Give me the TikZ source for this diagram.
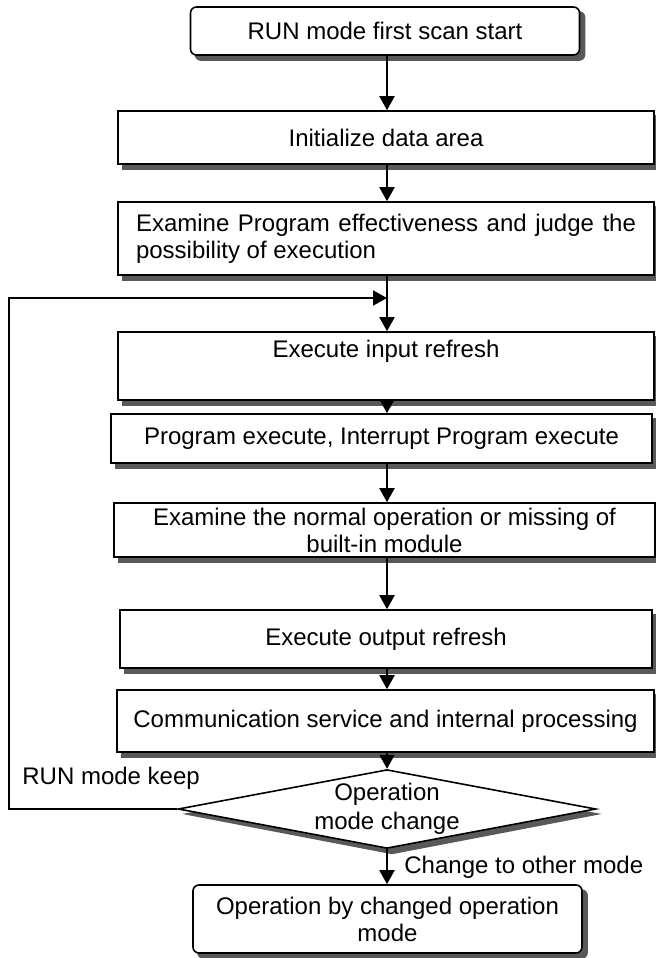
\documentclass[tikz,border=0pt]{standalone}
\usepackage{fontspec}
\setmainfont{Liberation Sans}
\usetikzlibrary{arrows.meta,shapes.geometric,backgrounds}
\definecolor{shadowgray}{gray}{0.35}

\begin{document}
\begin{tikzpicture}[x=0.5pt,y=0.5pt,
  box/.style={draw,line width=0.8pt,fill=white,inner sep=0pt,align=center,
    font=\fontsize{12}{13.5}\selectfont},
  rbox/.style={box,rounded corners=3pt},
  shadowfill/.style={fill=shadowgray},
  flow/.style={line width=1pt,-{Triangle[length=7pt,width=7.5pt]}},
  lbl/.style={font=\fontsize{12}{13.5}\selectfont,anchor=west,inner sep=0pt}]
\useasboundingbox (0,0) rectangle (656,-958);
\coordinate (spine) at (387,0);
\node[rbox,minimum width=194.5pt,minimum height=24pt] (start) at (385,-31) {RUN mode first scan start};
\node[box,minimum width=268pt,minimum height=26.5pt] (init) at (386,-137.5) {Initialize data area};
\node[box,minimum width=268pt,minimum height=36.5pt,text width=250pt,align=justify] (check) at (386,-238.5) {Examine Program effectiveness and judge the possibility of execution};
\node[box,minimum width=268pt,minimum height=34pt] (inref) at (386,-366) {Execute input refresh\\\strut};
\node[box,minimum width=270.5pt,minimum height=24.5pt] (prog) at (381.5,-438.5) {Program execute, Interrupt Program execute};
\node[box,minimum width=270.5pt,minimum height=27pt] (builtin) at (384.5,-530) {Examine the normal operation or missing of\\built-in module};
\node[box,minimum width=266pt,minimum height=29pt] (outref) at (386,-639) {Execute output refresh};
\node[box,minimum width=268.5pt,minimum height=31pt] (comm) at (385.5,-721) {Communication service and internal processing};
\node[box,diamond,aspect=5.3,minimum width=207pt,minimum height=39pt] (dia) at (387,-809) {Operation\\[1pt]mode change};
\node[rbox,minimum width=194.5pt,minimum height=34pt] (final) at (387.5,-919) {Operation by changed operation\\mode};
\node[lbl] (keeplbl) at (22,-778) {RUN mode keep};
\node[lbl] (chglbl) at (404,-867) {Change to other mode};
% shadows
\begin{scope}[on background layer]
\foreach \n in {init,check,inref,prog,builtin,outref,comm}
  \fill[shadowfill] ([xshift=2.5pt,yshift=-2.5pt]\n.south west) rectangle ([xshift=2.5pt,yshift=-2.5pt]\n.north east);
\foreach \n in {start,final}
  \fill[shadowfill,rounded corners=3pt] ([xshift=2.5pt,yshift=-2.5pt]\n.south west) rectangle ([xshift=2.5pt,yshift=-2.5pt]\n.north east);
\fill[shadowfill] ([xshift=2.5pt,yshift=-2.5pt]dia.north) -- ([xshift=2.5pt,yshift=-2.5pt]dia.east) -- ([xshift=2.5pt,yshift=-2.5pt]dia.south) -- ([xshift=2.5pt,yshift=-2.5pt]dia.west) -- cycle;
\end{scope}
% main flow
\draw[flow] (start.south -| spine) -- (init.north -| spine);
\draw[flow] (init.south -| spine) -- (check.north -| spine);
\draw[flow] (check.south -| spine) -- (inref.north -| spine);
\draw[flow] (inref.south -| spine) -- (prog.north -| spine);
\draw[flow] (prog.south -| spine) -- (builtin.north -| spine);
\draw[flow] (builtin.south -| spine) -- (outref.north -| spine);
\draw[flow] (outref.south -| spine) -- (comm.north -| spine);
\draw[flow] (comm.south -| spine) -- (dia.north);
\draw[flow] (dia.south) -- (final.north -| dia.south);
% loop back
\coordinate (join) at (387,-298);
\coordinate (keep) at (9,-298);
\draw[flow] (dia.west) -| (keep) -- (join);
\end{tikzpicture}
\end{document}
